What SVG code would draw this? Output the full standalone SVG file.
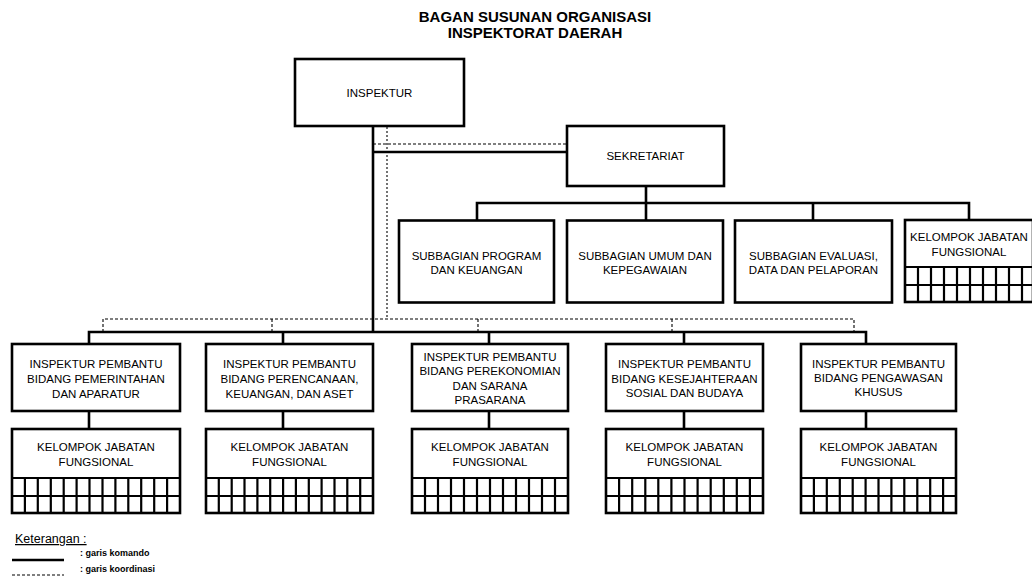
<svg xmlns="http://www.w3.org/2000/svg" width="1032" height="577" viewBox="0 0 1032 577">
<style>
  .box { fill: #fff; stroke: #000; stroke-width: 2.6; }
  .grid { fill: none; stroke: #000; stroke-width: 2.2; }
  .cmd { fill: none; stroke: #000; stroke-width: 2.6; }
  .coord { fill: none; stroke: #000; stroke-width: 1.1; stroke-dasharray: 3 2; }
  .dot { fill: none; stroke: #000; stroke-width: 1.1; stroke-dasharray: 2 2; }
  .t { font-family: "Liberation Sans", Arial, sans-serif; font-size: 11.5px; fill: #000; text-anchor: middle; }
  .title { font-family: "Liberation Sans", Arial, sans-serif; font-size: 15px; font-weight: bold; fill: #000; text-anchor: middle; }
  .leg { font-family: "Liberation Sans", Arial, sans-serif; font-size: 12.5px; fill: #000; }
  .legs { font-family: "Liberation Sans", Arial, sans-serif; font-size: 9px; font-weight: bold; fill: #000; }
</style>
<rect width="1032" height="577" fill="#fff"/>

<g id="title">
  <text class="title" x="535" y="22">BAGAN SUSUNAN ORGANISASI</text>
  <text class="title" x="535" y="38">INSPEKTORAT DAERAH</text>
</g>

<g id="connectors">
  <path class="cmd" d="M373,126 V332 M373,152 H567"/>
  <path class="coord" d="M373,144 H567"/>
  <path class="dot" d="M387,127 V319"/>
  <path class="cmd" d="M646,186 V203 M477,220 V203 H969 V220 M813,203 V220 M646,203 V220"/>
  <path class="cmd" d="M89,344 V332 H866 V344 M283,332 V344 M489,332 V344 M684,332 V344"/>
  <path class="coord" d="M103,332 V319 H854 V332 M272,319 V332 M478,319 V332 M672,319 V332"/>
  <path class="cmd" d="M89,411 V429 M283,411 V429 M489,411 V429 M684,411 V429 M866,411 V429"/>
</g>

<g id="inspektur">
  <rect class="box" x="295" y="59" width="169" height="67"/>
  <text class="t" x="379.5" y="96.5">INSPEKTUR</text>
</g>

<g id="sekretariat">
  <rect class="box" x="567" y="126" width="157" height="60"/>
  <text class="t" x="645.5" y="160">SEKRETARIAT</text>
</g>

<g id="subbag-program">
  <rect class="box" x="399" y="220.5" width="155" height="82"/>
  <text class="t" x="476.5" y="259.5">SUBBAGIAN PROGRAM</text>
  <text class="t" x="476.5" y="274">DAN KEUANGAN</text>
</g>

<g id="subbag-umum">
  <rect class="box" x="567" y="220.5" width="156" height="82"/>
  <text class="t" x="645" y="259.5">SUBBAGIAN UMUM DAN</text>
  <text class="t" x="645" y="274">KEPEGAWAIAN</text>
</g>

<g id="subbag-evaluasi">
  <rect class="box" x="735" y="220.5" width="157" height="82"/>
  <text class="t" x="813.5" y="259.5">SUBBAGIAN EVALUASI,</text>
  <text class="t" x="813.5" y="274">DATA DAN PELAPORAN</text>
</g>

<g id="kjf-sekretariat">
  <rect class="box" x="905" y="220" width="128" height="82"/>
  <path class="grid" d="M905,267 H1033 M905,285 H1033 M918,267 V302 M931,267 V302 M944,267 V302 M957,267 V302 M970,267 V302 M983,267 V302 M996,267 V302 M1009,267 V302 M1022,267 V302"/>
  <text class="t" x="969" y="240.7">KELOMPOK JABATAN</text>
  <text class="t" x="969" y="255.7">FUNGSIONAL</text>
</g>

<g id="ip-pemerintahan">
  <rect class="box" x="12" y="344" width="168" height="67"/>
  <text class="t" x="96" y="367.5">INSPEKTUR PEMBANTU</text>
  <text class="t" x="96" y="382.5">BIDANG PEMERINTAHAN</text>
  <text class="t" x="96" y="397.5">DAN APARATUR</text>
</g>

<g id="ip-perencanaan">
  <rect class="box" x="206" y="344" width="167" height="67"/>
  <text class="t" x="289.5" y="367.5">INSPEKTUR PEMBANTU</text>
  <text class="t" x="289.5" y="382.5">BIDANG PERENCANAAN,</text>
  <text class="t" x="289.5" y="397.5">KEUANGAN, DAN ASET</text>
</g>

<g id="ip-perekonomian">
  <rect class="box" x="412" y="344" width="156" height="67"/>
  <text class="t" x="490" y="361">INSPEKTUR PEMBANTU</text>
  <text class="t" x="490" y="375.3">BIDANG PEREKONOMIAN</text>
  <text class="t" x="490" y="389.6">DAN SARANA</text>
  <text class="t" x="490" y="403.5">PRASARANA</text>
</g>

<g id="ip-kesejahteraan">
  <rect class="box" x="606" y="344" width="157" height="67"/>
  <text class="t" x="684.5" y="367.5">INSPEKTUR PEMBANTU</text>
  <text class="t" x="684.5" y="382.5">BIDANG KESEJAHTERAAN</text>
  <text class="t" x="684.5" y="397">SOSIAL DAN BUDAYA</text>
</g>

<g id="ip-pengawasan">
  <rect class="box" x="801" y="344" width="155" height="67"/>
  <text class="t" x="878.5" y="367.5">INSPEKTUR PEMBANTU</text>
  <text class="t" x="878.5" y="381.5">BIDANG PENGAWASAN</text>
  <text class="t" x="878.5" y="396">KHUSUS</text>
</g>

<g id="kjf-1">
  <rect class="box" x="12" y="429" width="168" height="84"/>
  <path class="grid" d="M12,478 H180 M12,496 H180 M24.9,478 V513 M37.8,478 V513 M50.8,478 V513 M63.7,478 V513 M76.6,478 V513 M89.5,478 V513 M102.5,478 V513 M115.4,478 V513 M128.3,478 V513 M141.2,478 V513 M154.2,478 V513 M167.1,478 V513"/>
  <text class="t" x="96" y="450.7">KELOMPOK JABATAN</text>
  <text class="t" x="96" y="465.7">FUNGSIONAL</text>
</g>

<g id="kjf-2">
  <rect class="box" x="206" y="429" width="167" height="84"/>
  <path class="grid" d="M206,478 H373 M206,496 H373 M218.8,478 V513 M231.7,478 V513 M244.5,478 V513 M257.4,478 V513 M270.2,478 V513 M283.1,478 V513 M295.9,478 V513 M308.8,478 V513 M321.6,478 V513 M334.5,478 V513 M347.3,478 V513 M360.2,478 V513"/>
  <text class="t" x="289.5" y="450.7">KELOMPOK JABATAN</text>
  <text class="t" x="289.5" y="465.7">FUNGSIONAL</text>
</g>

<g id="kjf-3">
  <rect class="box" x="412" y="429" width="156" height="84"/>
  <path class="grid" d="M412,478 H568 M412,496 H568 M425,478 V513 M438,478 V513 M451,478 V513 M464,478 V513 M477,478 V513 M490,478 V513 M503,478 V513 M516,478 V513 M529,478 V513 M542,478 V513 M555,478 V513"/>
  <text class="t" x="490" y="450.7">KELOMPOK JABATAN</text>
  <text class="t" x="490" y="465.7">FUNGSIONAL</text>
</g>

<g id="kjf-4">
  <rect class="box" x="606" y="429" width="157" height="84"/>
  <path class="grid" d="M606,478 H763 M606,496 H763 M619.1,478 V513 M632.2,478 V513 M645.3,478 V513 M658.3,478 V513 M671.4,478 V513 M684.5,478 V513 M697.6,478 V513 M710.7,478 V513 M723.8,478 V513 M736.8,478 V513 M749.9,478 V513"/>
  <text class="t" x="684.5" y="450.7">KELOMPOK JABATAN</text>
  <text class="t" x="684.5" y="465.7">FUNGSIONAL</text>
</g>

<g id="kjf-5">
  <rect class="box" x="801" y="429" width="155" height="84"/>
  <path class="grid" d="M801,478 H956 M801,496 H956 M813.9,478 V513 M826.8,478 V513 M839.8,478 V513 M852.7,478 V513 M865.6,478 V513 M878.5,478 V513 M891.4,478 V513 M904.3,478 V513 M917.3,478 V513 M930.2,478 V513 M943.1,478 V513"/>
  <text class="t" x="878.5" y="450.7">KELOMPOK JABATAN</text>
  <text class="t" x="878.5" y="465.7">FUNGSIONAL</text>
</g>

<g id="legend">
  <text class="leg" x="15" y="543" text-decoration="underline">Keterangan :</text>
  <line x1="12" y1="560" x2="64" y2="560" stroke="#000" stroke-width="2.6"/>
  <line x1="12" y1="575" x2="64" y2="575" stroke="#000" stroke-width="1.1" stroke-dasharray="3 2"/>
  <text class="legs" x="80" y="556">: garis komando</text>
  <text class="legs" x="80" y="571.5">: garis koordinasi</text>
</g>
</svg>
